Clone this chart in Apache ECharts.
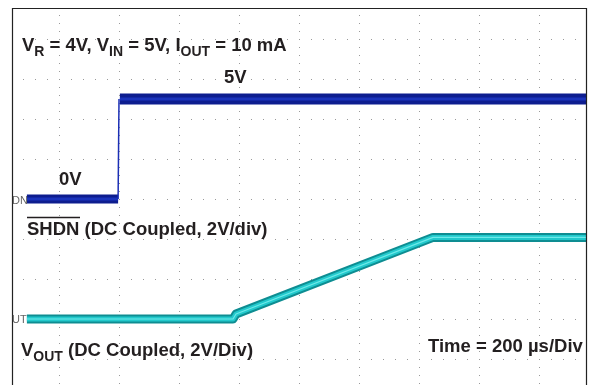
<!DOCTYPE html>
<html><head><meta charset="utf-8">
<script src="https://cdn.jsdelivr.net/npm/echarts@6/dist/echarts.min.js"></script>
<style>html,body{margin:0;padding:0;background:#fff}#c{width:592px;height:385px}</style>
</head><body><div id="c"></div>
<script>
// time in microseconds (200 us/div), voltages in volts (2 V/div)
const xTicks = [-200, 0, 200, 400, 600, 800, 1000, 1200, 1400, 1600, 1800];
const shdnLowT = [-107, 197];
const shdnLowV = [0, 0];
const shdnEdgeT = [197, 200];
const shdnEdgeV = [0, 5];
const shdnHighT = [203, 1757];
const shdnHighV = [5, 5];
const voutT = [-107, 580, 590, 1247, 1757];
const voutV = [0, 0, 0.25, 4.08, 4.08];

const zip = (a, b) => a.map((v, i) => [v, b[i]]);
const F = '"Liberation Sans", Arial, sans-serif';
const txtColor = '#231f20';
const mainFont = 'bold 18.5px ' + F;
const subRich = {s: {fontSize: 14, fontWeight: 'bold', fontFamily: F, fill: txtColor, lineHeight: 26, verticalAlign: 'bottom'}};

const chart = echarts.init(document.getElementById('c'), null, {renderer: 'canvas'});
chart.setOption({
  animation: false,
  grid: {left: -1, top: -1, width: 600, height: 400, show: false, outerBoundsMode: 'none', containLabel: false},
  xAxis: {type: 'value', min: xTicks[0], max: xTicks[xTicks.length - 1], interval: 200,
    axisLine: {show: false}, axisTick: {show: false}, axisLabel: {show: false},
    splitLine: {show: true, lineStyle: {color: '#9a9a9a', width: 1, type: [1, 7]}}},
  yAxis: [
    {type: 'value', min: -10, max: 10, interval: 2,
      axisLine: {show: false}, axisTick: {show: false}, axisLabel: {show: false},
      splitLine: {show: true, lineStyle: {color: '#9a9a9a', width: 1, type: [1, 11]}}},
    {type: 'value', min: -4, max: 16, interval: 2, show: false,
      splitLine: {show: false}}
  ],
  series: [
    {type: 'line', yAxisIndex: 0, data: zip(shdnLowT, shdnLowV), symbol: 'none',
      lineStyle: {color: '#0d1d8f', width: 9, cap: 'butt'}},
    {type: 'line', yAxisIndex: 0, data: zip(shdnHighT, shdnHighV), symbol: 'none',
      lineStyle: {color: '#0d1d8f', width: 11, cap: 'butt'}},
    {type: 'line', yAxisIndex: 0, data: zip(shdnLowT, shdnLowV), symbol: 'none',
      lineStyle: {color: '#1a33bb', width: 3, cap: 'butt'}},
    {type: 'line', yAxisIndex: 0, data: zip(shdnHighT, shdnHighV), symbol: 'none',
      lineStyle: {color: '#1a33bb', width: 3, cap: 'butt'}},
    {type: 'line', yAxisIndex: 0, data: zip(shdnEdgeT, shdnEdgeV), symbol: 'none',
      lineStyle: {color: '#1b2fb5', width: 1.5}},
    {type: 'line', yAxisIndex: 1, data: zip(voutT, voutV), symbol: 'none',
      lineStyle: {color: '#0e8d92', width: 9, cap: 'butt', join: 'round'}},
    {type: 'line', yAxisIndex: 1, data: zip(voutT, voutV), symbol: 'none',
      lineStyle: {color: '#22c9cc', width: 5, cap: 'butt', join: 'round'}},
    {type: 'line', yAxisIndex: 1, data: zip(voutT, voutV), symbol: 'none',
      lineStyle: {color: '#6ee9e9', width: 1.2, cap: 'butt', join: 'round'}}
  ],
  graphic: [
    {type: 'rect', z: 100, silent: true, shape: {x: 0, y: 0, width: 12, height: 385}, style: {fill: '#fff'}},
    {type: 'rect', z: 100, silent: true, shape: {x: 0, y: 0, width: 592, height: 8}, style: {fill: '#fff'}},
    {type: 'rect', z: 100, silent: true, shape: {x: 587, y: 0, width: 5, height: 385}, style: {fill: '#fff'}},
    {type: 'rect', z: 101, silent: true, shape: {x: 12.5, y: 8.5, width: 574, height: 400},
      style: {fill: 'none', stroke: '#222', lineWidth: 1.2}},
    {type: 'text', z: 110, x: 22, y: 46, style: {
      text: 'V{s|R} = 4V, V{s|IN} = 5V, I{s|OUT} = 10 mA',
      font: mainFont, fill: txtColor, lineHeight: 26, verticalAlign: 'middle', rich: subRich}},
    {type: 'text', z: 110, x: 224, y: 78, style: {text: '5V', font: mainFont, fill: txtColor, verticalAlign: 'middle'}},
    {type: 'text', z: 110, x: 59, y: 180, style: {text: '0V', font: mainFont, fill: txtColor, verticalAlign: 'middle'}},
    {type: 'text', z: 110, x: 27, y: 230, style: {text: 'SHDN (DC Coupled, 2V/div)', font: mainFont, fill: txtColor, verticalAlign: 'middle'}},
    {type: 'line', z: 110, shape: {x1: 27, y1: 217.5, x2: 80, y2: 217.5}, style: {stroke: txtColor, lineWidth: 1.5}},
    {type: 'text', z: 110, x: 21, y: 351, style: {
      text: 'V{s|OUT} (DC Coupled, 2V/Div)',
      font: mainFont, fill: txtColor, lineHeight: 26, verticalAlign: 'middle', rich: subRich}},
    {type: 'text', z: 110, x: 428, y: 346.5, style: {text: 'Time = 200 \u00b5s/Div', font: mainFont, fill: txtColor, verticalAlign: 'middle'}},
    {type: 'text', z: 110, x: 12, y: 201, style: {text: 'DN', font: '11px ' + F, fill: '#666', verticalAlign: 'middle'}},
    {type: 'text', z: 110, x: 12, y: 320, style: {text: 'UT', font: '11px ' + F, fill: '#666', verticalAlign: 'middle'}}
  ]
});
</script></body></html>
